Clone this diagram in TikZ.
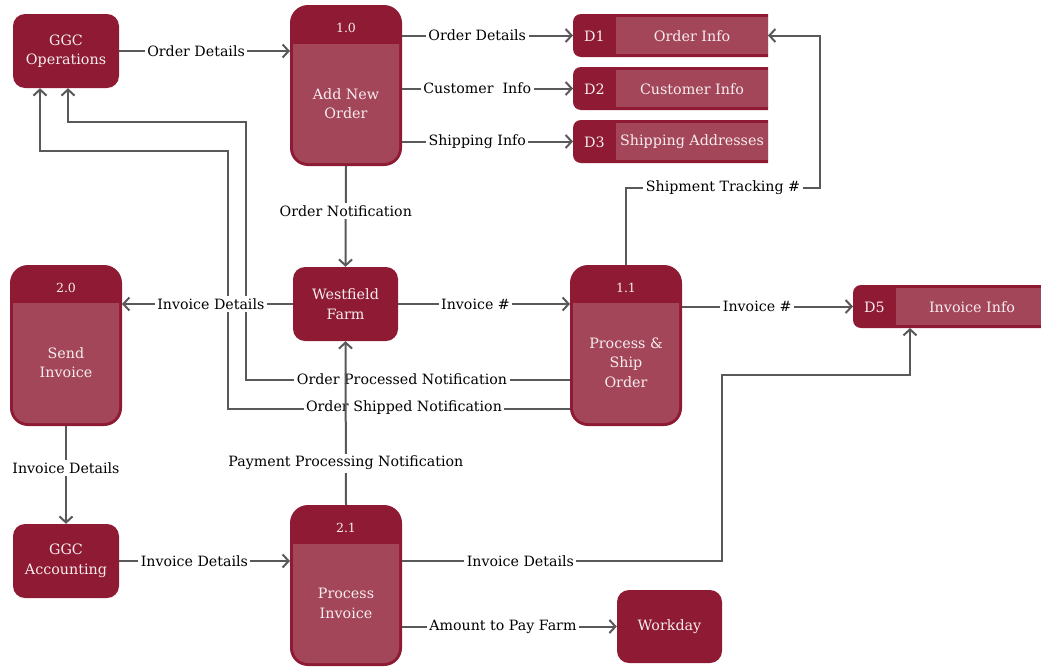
\documentclass[tikz,border=0pt]{standalone}
\usepackage{fontspec}
\setmainfont{DejaVu Serif}
\usetikzlibrary{arrows.meta,calc}
\definecolor{dark}{HTML}{8E1B33}
\definecolor{light}{HTML}{A34659}
\definecolor{ln}{HTML}{595959}
\definecolor{boxtxt}{HTML}{F7EDEF}
\tikzset{
 ext/.style={fill=dark, rounded corners=12pt, text=boxtxt, align=center, font=\fontsize{14.3}{19.5}\selectfont, inner sep=0pt},
 anchorbox/.style={inner sep=0pt, outer sep=0pt},
 conn/.style={draw=ln, line width=2pt},
 arr/.style={conn, -{Straight Barb[length=6pt,width=13pt]}},
 lbl/.style={fill=white, inner sep=2.5pt, text=black, font=\fontsize{14.2}{16}\selectfont},
 num/.style={text=boxtxt, font=\fontsize{12.5}{14}\selectfont},
 ptxt/.style={text=boxtxt, align=center, font=\fontsize{14.3}{19.5}\selectfont},
}
\newcommand\procbody[5]{%
 \fill[dark, rounded corners=18pt] (#1,#2) rectangle (#3,#4);
 \begin{scope}
 \clip (#1,#5) rectangle (#3,#4);
 \fill[light, rounded corners=15pt] (#1+3,#2+3) rectangle (#3-3,#4-3);
 \end{scope}}
\newcommand\storebody[4]{%
 \begin{scope}\clip (#1,#2) rectangle (#3,#4);
 \fill[dark, rounded corners=8pt] (#1,#2) rectangle (#3+20,#4);\end{scope}
 \fill[light] (#1+43,#2+3) rectangle (#3,#4-3);}
\begin{document}
\begin{tikzpicture}[x=1pt,y=-1pt]
\useasboundingbox (0,0) rectangle (1041,667);
% external entities
\node[ext, minimum width=106pt, minimum height=74pt] (ops) at (66,51) {GGC\\Operations};
\node[ext, minimum width=105pt, minimum height=74pt] (wf) at (345.5,304) {Westfield\\Farm};
\node[ext, minimum width=106pt, minimum height=74pt] (acct) at (66,561) {GGC\\Accounting};
\node[ext, minimum width=105pt, minimum height=73pt] (wd) at (669.5,626.5) {Workday};
% processes
\procbody{290}{5}{402}{166}{44}
\node[anchorbox, minimum width=112pt, minimum height=161pt] (p10) at (346,85.5) {};
\node[num] (p10n) at (346,28) {1.0};
\node[ptxt] (p10t) at (346,103.5) {Add New\\Order};
\procbody{570}{265}{682}{426}{303}
\node[anchorbox, minimum width=112pt, minimum height=161pt] (p11) at (626,345.5) {};
\node[num] (p11n) at (626,288) {1.1};
\node[ptxt] (p11t) at (626,362.5) {Process \&\\Ship\\Order};
\procbody{10}{265}{122}{426}{303}
\node[anchorbox, minimum width=112pt, minimum height=161pt] (p20) at (66,345.5) {};
\node[num] (p20n) at (66,288) {2.0};
\node[ptxt] (p20t) at (66,362.5) {Send\\Invoice};
\procbody{290}{505}{402}{666}{544}
\node[anchorbox, minimum width=112pt, minimum height=161pt] (p21) at (346,585.5) {};
\node[num] (p21n) at (346,528) {2.1};
\node[ptxt] (p21t) at (346,603.5) {Process\\Invoice};
% data stores
\storebody{573}{14}{768}{57}
\node[anchorbox, minimum width=195pt, minimum height=43pt] (d1) at (670.5,35.5) {};
\node[ptxt] (d1n) at (594.5,36) {D1};
\node[ptxt] (d1t) at (692,36) {Order Info};
\storebody{573}{67}{768}{110}
\node[anchorbox, minimum width=195pt, minimum height=43pt] (d2) at (670.5,88.5) {};
\node[ptxt] (d2n) at (594.5,89) {D2};
\node[ptxt] (d2t) at (692,89) {Customer Info};
\storebody{573}{120}{768}{163}
\node[anchorbox, minimum width=195pt, minimum height=43pt] (d3) at (670.5,141.5) {};
\node[ptxt] (d3n) at (594.5,142) {D3};
\node[ptxt] (d3t) at (692,142) {Shipping Addresses};
\storebody{853}{285}{1041}{328}
\node[anchorbox, minimum width=188pt, minimum height=43pt] (d5) at (947,306.5) {};
\node[ptxt] (d5n) at (874.5,307) {D5};
\node[ptxt] (d5t) at (972,307) {Invoice Info};
% bend points
\coordinate (st) at (820,188);
\coordinate (opA) at (246,380);
\coordinate (opB) at (246,122);
\coordinate (osA) at (228,409);
\coordinate (osB) at (228,151);
\coordinate (idA) at (722,561);
\coordinate (idB) at (910,375);
% connectors
\draw[arr] (ops.east) -- node[lbl,pos=.45]{Order Details} (p10.west |- ops.east);
\draw[arr] (p10.east |- d1.west) -- node[lbl,pos=.44]{Order Details} (d1.west);
\draw[arr] (p10.east |- d2.west) -- node[lbl,pos=.44]{Customer\ \ Info} (d2.west);
\draw[arr] (p10.east |- d3.west) -- node[lbl,pos=.44]{Shipping Info} (d3.west);
\draw[arr] (p11.north) |- node[lbl,pos=.75]{Shipment Tracking \#} (st) |- (d1.east);
\draw[arr] (p10.south) -- node[lbl,pos=.45]{Order Notification} (wf.north);
\draw[arr] (p11.west |- opA) -- (opA) -- (opB) -| ($(ops.south)+(2,0)$);
\draw[arr] (p11.west |- osA) -- (osA) -- (osB) -| ($(ops.south)+(-26,0)$);
\draw[arr] (wf.west) -- node[lbl,pos=.48]{Invoice Details} (p20.east |- wf.west);
\draw[arr] (wf.east) -- node[lbl,pos=.45]{Invoice \#} (p11.west |- wf.east);
\draw[arr] (p11.east |- d5.west) -- node[lbl,pos=.44]{Invoice \#} (d5.west);
\node[lbl] (opl) at (402,379) {Order Processed Notification};
\node[lbl] (osl) at (404,408) {Order Shipped Notification};
\draw[arr] (p21.north) -- node[lbl,pos=.256]{Payment Processing Notification} (wf.south);
\draw[arr] (p20.south) -- node[lbl,pos=.43]{Invoice Details} (acct.north);
\draw[arr] (acct.east) -- node[lbl,pos=.44]{Invoice Details} (p21.west |- acct.east);
\draw[arr] (p21.east |- acct.east) -- node[lbl,pos=.37]{Invoice Details} (idA) |- (idB) -- (idB |- d5.south);
\draw[arr] (p21.east |- wd.west) -- node[lbl,pos=.47]{Amount to Pay Farm} (wd.west);
\end{tikzpicture}
\end{document}
